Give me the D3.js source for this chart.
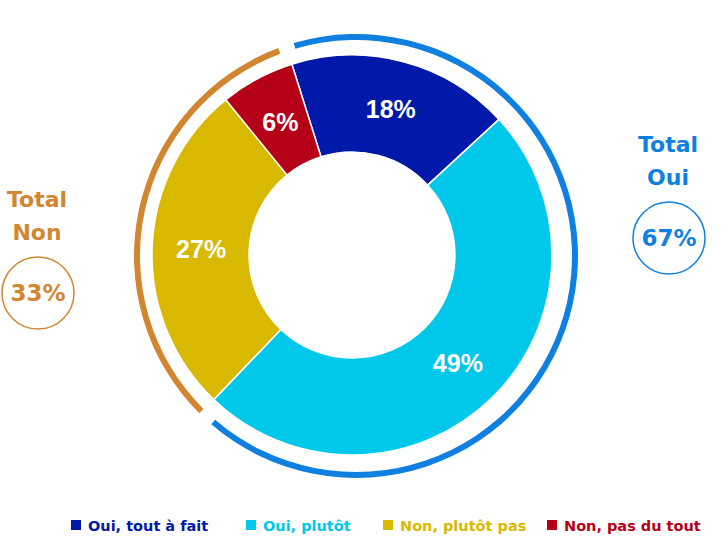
<!DOCTYPE html>
<html>
<head>
<meta charset="utf-8">
<script src="https://cdn.jsdelivr.net/npm/d3@7"></script>
<style>
  body { margin: 0; background: #fff; }
  svg { display: block; }
</style>
</head>
<body>
<svg id="chart"></svg>
<script>
// data
const categories = ["Oui, tout à fait", "Oui, plutôt", "Non, plutôt pas", "Non, pas du tout"];
const values = [18, 49, 27, 6];
const colors = ["#0019a8", "#00c8ea", "#d9b800", "#b50018"];
const totalLabels = ["Oui", "Non"];
const totalValues = [67, 33];
const totalColors = ["#0f80e0", "#d2862f"];

const width = 728, height = 543;
const cx = 352, cy = 255;
const deg = Math.PI / 180;
const startAngle = -17.5 * deg;

const svg = d3.select("#chart").attr("width", width).attr("height", height);

const pie = d3.pie().sort(null).value((d) => d)
  .startAngle(startAngle).endAngle(startAngle + 2 * Math.PI);

const arc = d3.arc().innerRadius(103).outerRadius(200);
const labelArc = d3.arc().innerRadius(151).outerRadius(151);

const g = svg.append("g").attr("transform", `translate(${cx},${cy})`);

g.selectAll(".slice")
  .data(pie(values))
  .enter()
  .append("path")
  .attr("class", "slice")
  .attr("d", arc)
  .attr("fill", (d, i) => colors[i])
  .attr("stroke", "#fff")
  .attr("stroke-width", 1.5);

g.selectAll(".slice-label")
  .data(pie(values))
  .enter()
  .append("text")
  .attr("class", "slice-label")
  .attr("transform", (d) => `translate(${labelArc.centroid(d)})`)
  .attr("text-anchor", "middle")
  .attr("dy", "0.36em")
  .style("font-family", "'Liberation Sans', Arial, sans-serif")
  .style("font-weight", "bold")
  .style("font-size", "25px")
  .style("fill", "#fff")
  .text((d) => d.data + "%");

// outer ring for the totals
const ringArc = d3.arc()
  .innerRadius(216)
  .outerRadius(222)
  .startAngle((d) => d.startAngle + 1.2 * deg)
  .endAngle((d) => d.endAngle - 3 * deg);

const ring = svg.append("g").attr("transform", `translate(${cx + 4},${cy + 1})`);
ring.selectAll(".ring")
  .data(pie(totalValues))
  .enter()
  .append("path")
  .attr("class", "ring")
  .attr("d", ringArc)
  .attr("fill", (d, i) => totalColors[i]);

// total boxes
const totalPos = [{ x: 668, y: 152 }, { x: 37, y: 207 }];
const font = "'DejaVu Sans', Verdana, sans-serif";

totalValues.forEach((v, i) => {
  const p = totalPos[i];
  const t = svg.append("g").attr("transform", `translate(${p.x},${p.y})`);
  t.append("text")
    .attr("text-anchor", "middle")
    .style("font-family", font)
    .style("font-weight", "bold")
    .style("font-size", "22px")
    .style("fill", totalColors[i])
    .text("Total");
  t.append("text")
    .attr("y", 33)
    .attr("text-anchor", "middle")
    .style("font-family", font)
    .style("font-weight", "bold")
    .style("font-size", "22px")
    .style("fill", totalColors[i])
    .text(totalLabels[i]);
  t.append("circle")
    .attr("cx", 1)
    .attr("cy", 86)
    .attr("r", 36)
    .attr("fill", "none")
    .attr("stroke", totalColors[i])
    .attr("stroke-width", 1.5);
  t.append("text")
    .attr("x", 1)
    .attr("y", 86)
    .attr("dy", "0.36em")
    .attr("text-anchor", "middle")
    .style("font-family", font)
    .style("font-weight", "bold")
    .style("font-size", "23px")
    .style("fill", totalColors[i])
    .text(v + "%");
});

// legend
const legendX = [71, 246, 383, 547];
const legend = svg.append("g").attr("transform", "translate(0,520)");
const items = legend.selectAll(".item")
  .data(categories)
  .enter()
  .append("g")
  .attr("class", "item")
  .attr("transform", (d, i) => `translate(${legendX[i]},0)`);

items.append("rect")
  .attr("width", 10)
  .attr("height", 10)
  .attr("fill", (d, i) => colors[i]);

items.append("text")
  .attr("x", 17)
  .attr("y", 10.5)
  .style("font-family", font)
  .style("font-weight", "bold")
  .style("font-size", "14.5px")
  .style("fill", (d, i) => colors[i])
  .text((d) => d);
</script>
</body>
</html>
